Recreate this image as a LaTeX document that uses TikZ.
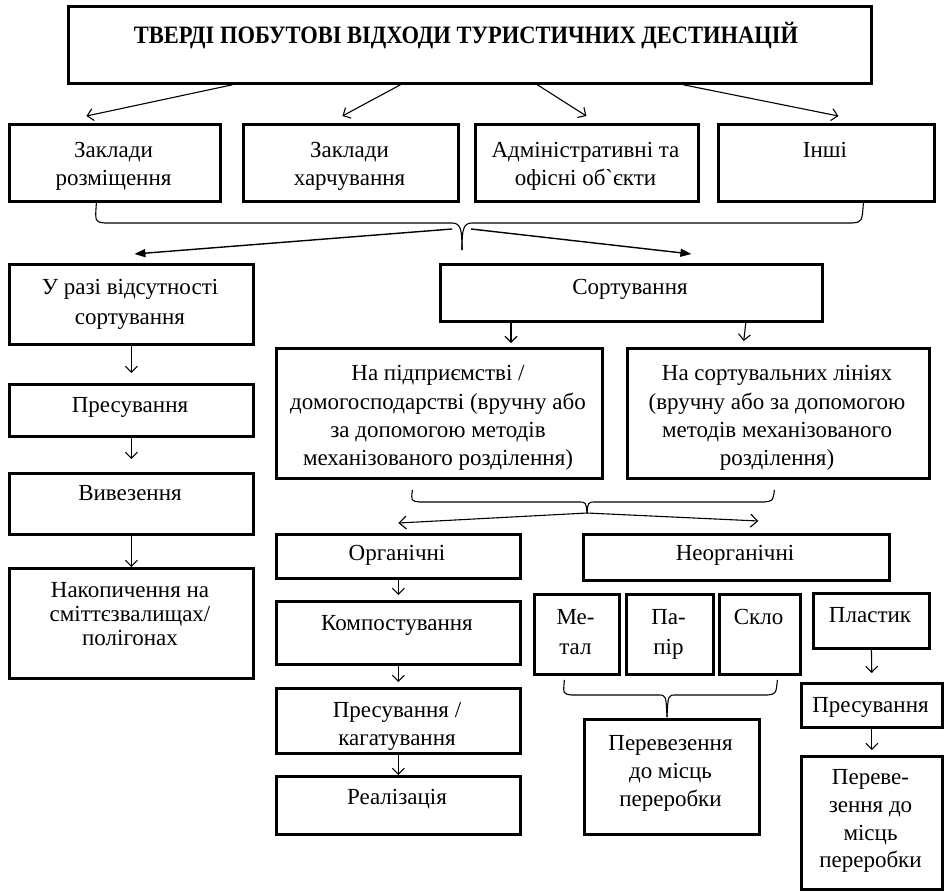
\documentclass[tikz,border=0pt]{standalone}
\usepackage{fontspec}
\setmainfont{Liberation Serif}
\usetikzlibrary{arrows.meta}
\newcommand\mybox[5]{\node[bxs, anchor=north west, minimum width={(#4-#2)*1pt}, minimum height={(#5-#3)*1pt}] (#1) at (#2,#3) {};}
\newcommand\mytext[5][28]{\node[txt, font=\fontsize{23}{#1}\selectfont] (#2) at (#3,#4-18) {\rule{0pt}{18pt}#5};}
\begin{document}
\begin{tikzpicture}[x=1pt,y=-1pt,
  bxs/.style={draw, line width=2.8pt, inner sep=0pt, rectangle},
  txt/.style={inner sep=0pt, align=center, anchor=north},
  arr/.style={line width=1.1pt, -{Straight Barb[length=6pt,width=12pt]}},
  arrb/.style={line width=1.1pt, -{Straight Barb[length=7pt,width=13pt]}},
  farr/.style={line width=1.4pt, -{Triangle[length=11pt,width=8pt]}},
  brc/.style={line width=1.1pt}]
\useasboundingbox (0,0) rectangle (944,892);

% title
\mybox{title}{67}{5}{870}{82}
\node[txt, font=\fontsize{25}{28}\bfseries\selectfont] (titlet) at (466,41-19) {\scalebox{0.9}[1]{\rule{0pt}{19pt}ТВЕРДІ ПОБУТОВІ ВІДХОДИ ТУРИСТИЧНИХ ДЕСТИНАЦІЙ}};

% row 1
\mybox{b1}{8}{123}{219}{200}
\mybox{b2}{242}{123}{457}{200}
\mybox{b3}{474}{123}{697}{200}
\mybox{b4}{717}{123}{933}{200}
\mytext{b1t}{113.5}{157.5}{Заклади\\розміщення}
\mytext{b2t}{349.5}{157.5}{Заклади\\харчування}
\mytext{b3t}{585.5}{157.5}{Адміністративні та\\офісні об\textasciigrave єкти}
\mytext{b4t}{825}{157.5}{Інші}

\draw[arr] ([xshift=-237.5pt]title.south) -- ([xshift=-28.5pt,yshift=7pt]b1.north);
\draw[arr] ([xshift=-69.5pt]title.south) -- ([xshift=-8.5pt,yshift=7pt]b2.north);
\draw[arr] ([xshift=67.5pt]title.south) -- ([xshift=-0.5pt,yshift=7pt]b3.north);
\draw[arr] ([xshift=213.5pt]title.south) -- ([xshift=12pt,yshift=7pt]b4.north);

% big brace
\coordinate (bt1) at (462,250);
\draw[brc] ([xshift=-18.5pt]b1.south) .. controls (95,222) .. (105,223) -- (452,223) .. controls (461,223) and (462,230) .. (bt1);
\draw[brc] (bt1) .. controls (462,230) and (463,223) .. (472,223) -- (852,223) .. controls (862,222) .. ([xshift=37pt]b4.south);
\coordinate (bl1) at (452,229);
\coordinate (br1) at (471,229);

% left column
\mybox{u1}{8}{263}{252}{343}
\mybox{u2}{8}{383}{252}{435}
\mybox{u3}{8}{472}{252}{533}
\mybox{u4}{8}{567}{252}{677}
\mytext[30]{u1t}{130}{294.5}{У разі відсутності\\сортування}
\mytext{u2t}{130}{412.5}{Пресування}
\mytext{u3t}{130}{500.5}{Вивезення}
\mytext[24]{u4t}{130}{597.5}{Накопичення на\\сміттєзвалищах/\\полігонах}

\draw[farr] (bl1) -- ([xshift=3pt,yshift=9pt]u1.north);
\draw[arr, shorten >=10pt] (u1.south) -- (u2.north);
\draw[arr, shorten >=13pt] (u2.south) -- (u3.north);
\draw[arr] (u3.south) -- (u4.north);

% sorting
\mybox{sort}{439}{263}{821}{320}
\mytext{sortt}{630}{294.5}{Сортування}
\draw[farr] (br1) -- ([xshift=60pt,yshift=9pt]sort.north);

\mybox{np1}{275}{347}{601}{477}
\mybox{np2}{626}{347}{928}{477}
\mytext[28.3]{np1t}{438}{380.5}{На підприємстві /\\домогосподарстві (вручну або\\за допомогою методів\\механізованого розділення)}
\mytext[28.3]{np2t}{777}{380.5}{На сортувальних лініях\\(вручну або за допомогою\\методів механізованого\\розділення)}
\draw[arr, shorten >=4pt] ([xshift=72pt]sort.south west) -- ([xshift=236pt]np1.north west);
\draw[arr, shorten >=6pt] ([xshift=-78pt]sort.south east) -- ([xshift=117pt]np2.north west);

% brace 2
\coordinate (bt2) at (587,513);
\draw[brc] ([xshift=-27pt,yshift=-10pt]np1.south) .. controls (411,501) .. (420,502) -- (578,502) .. controls (586,502) .. (bt2);
\draw[brc] (bt2) .. controls (588,502) .. (596,502) -- (764,502) .. controls (773,501) .. ([xshift=-4pt,yshift=-10pt]np2.south);

\mybox{org}{275}{533}{519}{577}
\mybox{neorg}{582}{533}{888}{579}
\mytext{orgt}{397}{560.5}{Органічні}
\mytext{neorgt}{735}{560.5}{Неорганічні}
\draw[arrb] (bt2) -- ([yshift=10pt]org.north);
\draw[arrb] (bt2) -- ([xshift=22pt,yshift=12pt]neorg.north);

% organic chain
\mybox{komp}{275}{600}{519}{663}
\mybox{pres}{275}{687}{519}{752}
\mybox{real}{275}{775}{519}{833}
\mytext{kompt}{397}{630.5}{Компостування}
\mytext{prest}{397}{717.5}{Пресування /\\кагатування}
\mytext{realt}{397}{804.5}{Реалізація}
\draw[arr, shorten >=5pt] (org.south) -- (komp.north);
\draw[arr, shorten >=5pt] (komp.south) -- (pres.north);
\draw[arr] (pres.south) -- (real.north);

% inorganic
\mybox{metal}{533}{593}{618}{673}
\mybox{paper}{625}{593}{712}{673}
\mybox{glass}{718}{593}{799}{673}
\mybox{plast}{812}{592}{928}{647}
\mytext[30]{metalt}{575.5}{624.5}{Ме-\\тал}
\mytext[30]{papert}{668.5}{624.5}{Па-\\пір}
\mytext{glasst}{758.5}{624.5}{Скло}
\mytext{plastt}{870}{622.5}{Пластик}

\coordinate (bt3) at (667,717);
\draw[brc] ([xshift=-12.5pt,yshift=-4pt]metal.south) .. controls (563,694) .. (572,695) -- (658,695) .. controls (666,695) .. (bt3);
\draw[brc] (bt3) .. controls (668,695) .. (676,695) -- (767,695) .. controls (776,694) .. ([xshift=17.5pt,yshift=-4pt]glass.south);

\mybox{perev}{583}{718}{758}{833}
\mytext[28]{perevt}{670.5}{750.5}{Перевезення\\до місць\\переробки}

\mybox{pres2}{800}{682}{941}{726}
\mybox{perev2}{800}{755}{941}{888}
\mytext{pres2t}{870.5}{712.5}{Пресування}
\mytext[27.7]{perev2t}{870.5}{784.5}{Переве-\\зення до\\місць\\переробки}
\draw[arr, shorten >=9pt] (plast.south) -- (pres2.north);
\draw[arr, shorten >=5pt] (pres2.south) -- (perev2.north);
\end{tikzpicture}
\end{document}
